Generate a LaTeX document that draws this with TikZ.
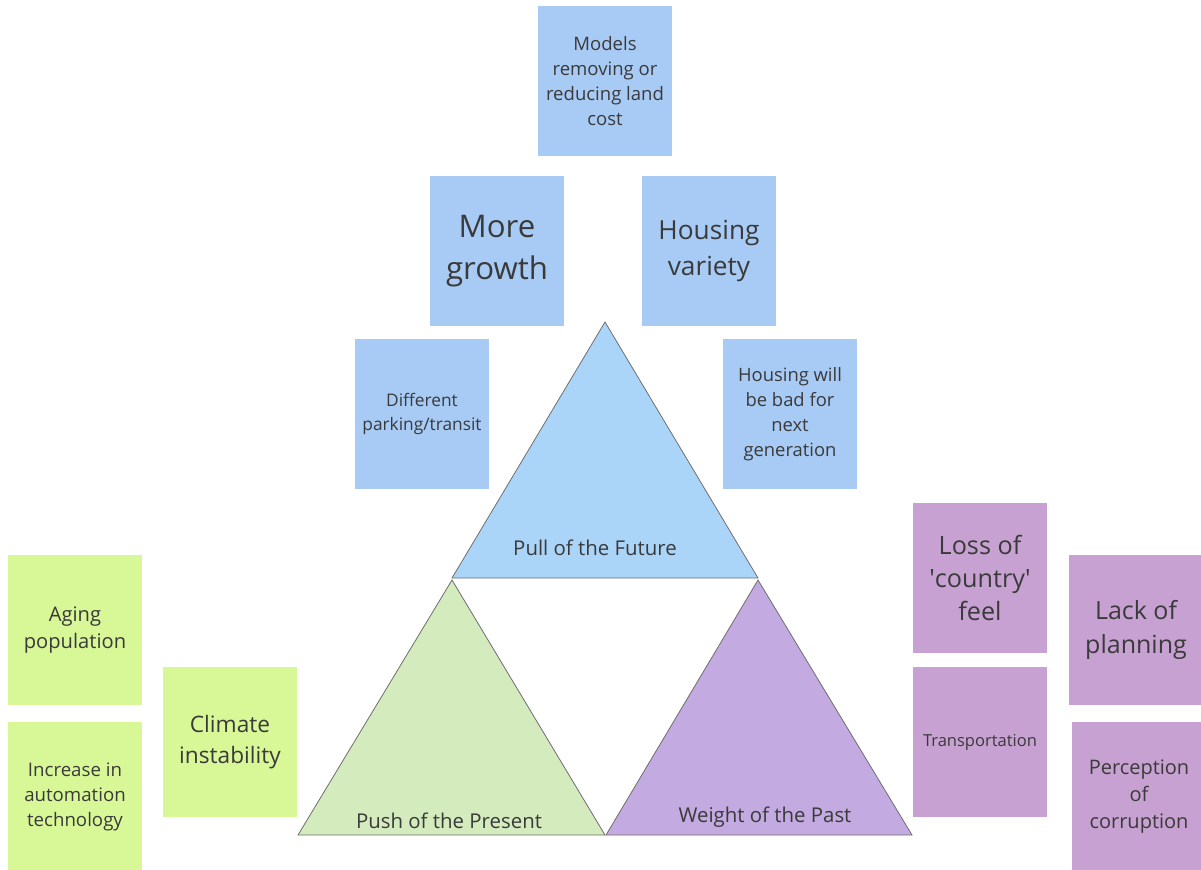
\documentclass[tikz,border=0pt]{standalone}
\usepackage{fontspec}
\setmainfont{Open Sans}
\definecolor{noteBlue}{HTML}{A8CBF5}
\definecolor{noteGreen}{HTML}{D8F797}
\definecolor{notePurple}{HTML}{C6A1D1}
\definecolor{triBlue}{HTML}{AAD5F8}
\definecolor{triGreen}{HTML}{D3EBBD}
\definecolor{triPurple}{HTML}{C3AAE0}
\definecolor{triEdge}{HTML}{6E6E6E}
\definecolor{noteInk}{HTML}{3A3A3A}
\newcommand{\pxfont}[2]{\fontsize{#1}{#2}\selectfont}
\tikzset{
  tri diagram/.style={
    x=0.75pt, y=-0.75pt,
    every node/.style={text=noteInk, inner sep=0pt, outer sep=0pt}
  },
  tri note/.style={rectangle, minimum width=100.5pt, minimum height=112.5pt,
    align=center},
  tri face/.style={draw=triEdge, line width=0.6pt, line join=miter},
  tri label/.style={font=\pxfont{15.3}{18}}
}
\begin{document}
\begin{tikzpicture}[tri diagram]
    \clip (0,0) rectangle (1201,869);
    % triangles
    \coordinate (futTop) at (605,322);
    \coordinate (futL) at (452,578);
    \coordinate (futR) at (758,578);
    \coordinate (preTop) at (452,580);
    \coordinate (preL) at (298,835);
    \coordinate (preR) at (605,835);
    \coordinate (pasTop) at (758,580);
    \coordinate (pasL) at (606,835);
    \coordinate (pasR) at (912,835);
    \filldraw[tri face,fill=triBlue] (futTop) -- (futR) -- (futL) -- cycle;
    \filldraw[tri face,fill=triGreen] (preTop) -- (preR) -- (preL) -- cycle;
    \filldraw[tri face,fill=triPurple] (pasTop) -- (pasR) -- (pasL) -- cycle;
    \node[tri label] (future) at (595,548) {Pull of the Future};
    \node[tri label] (present) at (449,821) {Push of the Present};
    \node[tri label] (past) at (765,817) {Weight of the Past};
    % future notes
    \node[tri note,fill=noteBlue,font=\pxfont{13.9}{18.75}] (models) at (605,81)
      {Models\\removing or\\reducing land\\cost};
    \node[tri note,fill=noteBlue,font=\pxfont{23.4}{31.5}] (growth) at (497,251)
      {More\\growth};
    \node[tri note,fill=noteBlue,font=\pxfont{19.7}{27}] (variety) at (709,251)
      {Housing\\variety};
    \node[tri note,fill=noteBlue,font=\pxfont{13}{18}] (parking) at (422,414)
      {Different\\parking/transit};
    \node[tri note,fill=noteBlue,font=\pxfont{13.8}{18.75}] (nextgen) at (790,414)
      {Housing will\\be bad for\\next\\generation};
    % present notes
    \node[tri note,fill=noteGreen,font=\pxfont{15.1}{20.25}] (aging) at (75,630)
      {Aging\\population};
    \node[tri note,fill=noteGreen,font=\pxfont{14}{18.75}] (automation) at (75,797)
      {Increase in\\automation\\technology};
    \node[tri note,fill=noteGreen,font=\pxfont{17}{23.25}] (climate) at (230,742)
      {Climate\\instability};
    % past notes
    \node[tri note,fill=notePurple,font=\pxfont{18.9}{25}] (country) at (980,578)
      {Loss of\\\textquotesingle country\textquotesingle\\feel};
    \node[tri note,fill=notePurple,font=\pxfont{12.4}{15}] (transport) at (980,742)
      {Transportation};
    \node[tri note,fill=notePurple,font=\pxfont{18.75}{25.5}] (planning) at (1136,630)
      {Lack of\\planning};
    \node[tri note,fill=notePurple,font=\pxfont{15}{20.25}] (corruption) at (1139,797)
      {Perception\\of\\corruption};
\end{tikzpicture}
\end{document}
